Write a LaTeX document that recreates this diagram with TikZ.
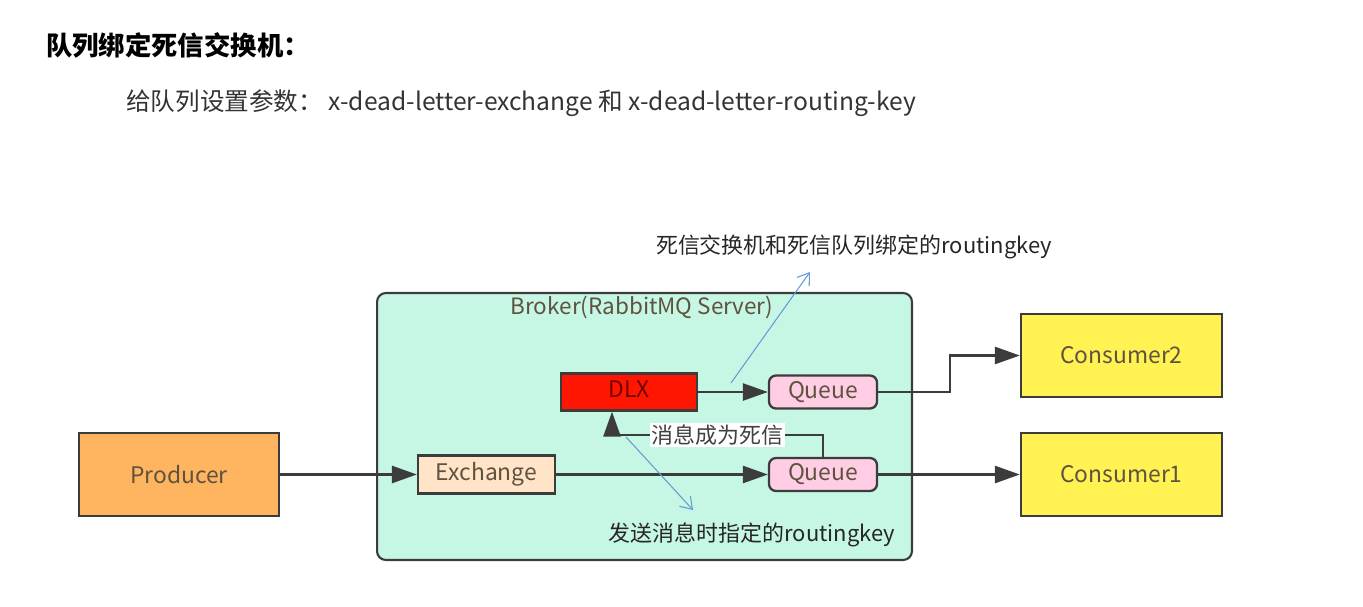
\documentclass[tikz,border=0pt]{standalone}
\usepackage{fontspec}
\setmainfont{Noto Sans CJK SC}
\usepackage{xcolor}
\usetikzlibrary{arrows.meta, positioning, calc}

\definecolor{MintBg}{RGB}{198,247,228}
\definecolor{ProdOrange}{RGB}{255,180,96}
\definecolor{ExchPeach}{RGB}{255,228,200}
\definecolor{DlxRed}{RGB}{255,22,0}
\definecolor{QueuePink}{RGB}{255,205,228}
\definecolor{ConsYellow}{RGB}{255,242,82}
\definecolor{EdgeGray}{RGB}{60,60,60}
\definecolor{TextBrown}{RGB}{95,82,62}
\definecolor{HintBlue}{RGB}{100,155,215}

\begin{document}
\begin{tikzpicture}[x=0.02cm, y=-0.02cm,
  box/.style={draw=EdgeGray, line width=1.3pt, inner sep=0pt,
              text=TextBrown, font=\fontsize{13}{15}\selectfont},
  flow/.style={draw=EdgeGray, line width=1.5pt,
               -{Triangle[length=0.5cm, width=0.34cm]}},
  hint/.style={draw=HintBlue, line width=0.6pt,
               -{Straight Barb[length=0.22cm, width=0.3cm]}},
  note/.style={font=\fontsize{12.5}{14}\selectfont, text=black!85}]

  \useasboundingbox (0,0) rectangle (1363,606);

  % heading
  \node[anchor=west, font=\fontsize{15}{18}\selectfont\bfseries] (title)
    at (40,45) {队列绑定死信交换机：};
  \node[anchor=west, font=\fontsize{14}{16}\selectfont, text=black!80] (params)
    at (120,103) {给队列设置参数：\ x-dead-letter-exchange 和 x-dead-letter-routing-key};

  % broker
  \node[draw=EdgeGray, fill=MintBg, line width=1.2pt, rounded corners=5pt,
        minimum width=10.7cm, minimum height=5.34cm] (broker) at (644.5,426.5) {};
  \node[text=TextBrown, font=\fontsize{12.8}{14}\selectfont] (brokerlbl)
    at (642,307) {Broker(RabbitMQ Server)};

  % nodes
  \node[box, fill=ProdOrange, minimum width=4cm, minimum height=1.66cm] (producer)
    at (179,474.5) {Producer};
  \node[box, fill=ExchPeach, minimum width=2.74cm, minimum height=0.76cm] (exchange)
    at (486.5,474.5) {\raisebox{2pt}{Exchange}};
  \node[box, fill=DlxRed, text=red!45!black, minimum width=2.72cm, minimum height=0.74cm] (dlx)
    at (629,392) {\raisebox{3pt}{DLX}};
  \node[box, fill=QueuePink, rounded corners=4pt, minimum width=2.16cm, minimum height=0.66cm] (queue2)
    at (823,392) {Queue};
  \node[box, fill=QueuePink, rounded corners=4pt, minimum width=2.16cm, minimum height=0.66cm] (queue1)
    at (823,474.5) {Queue};
  \node[box, fill=ConsYellow, minimum width=4.02cm, minimum height=1.66cm] (consumer2)
    at (1121.5,355.5) {Consumer2};
  \node[box, fill=ConsYellow, minimum width=4.02cm, minimum height=1.66cm] (consumer1)
    at (1121.5,474.5) {Consumer1};

  % routing
  \coordinate (bend2) at (950,392);
  \coordinate (deadturn) at (823,435);
  \draw[flow] (producer) -- (exchange);
  \draw[flow] (exchange) -- (queue1);
  \draw[flow] (dlx) -- (queue2);
  \draw[flow] (queue2.east) -- (bend2) |- (consumer2.west);
  \draw[flow] (queue1) -- (consumer1);
  \draw[flow] (queue1.north) -- (deadturn) -| ([xshift=-0.34cm]dlx.south)
    node[pos=0.25, fill=white, inner sep=1pt, text=black!75,
         font=\fontsize{12.5}{14}\selectfont] (deadlbl) {消息成为死信};

  % routing keys
  \node[note] (bindkey) at (854,247) {死信交换机和死信队列绑定的routingkey};
  \node[note] (sendkey) at (752,535) {发送消息时指定的routingkey};
  \coordinate (hintfrom1) at (731,383);
  \coordinate (hintto1) at (810,272);
  \coordinate (hintfrom2) at (626,437);
  \coordinate (hintto2) at (693,510);
  \draw[hint] (hintfrom1) -- (hintto1);
  \draw[hint] (hintfrom2) -- (hintto2);
\end{tikzpicture}
\end{document}
